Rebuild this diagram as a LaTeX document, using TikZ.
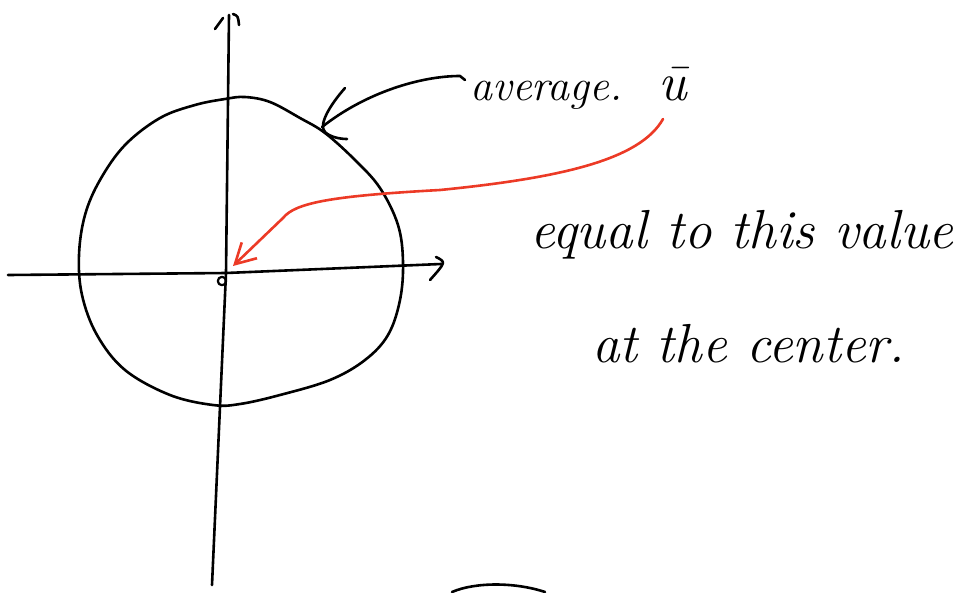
\documentclass[tikz,border=0pt]{standalone}
\usepackage{xcolor}
\usetikzlibrary{positioning, arrows.meta}

\begin{document}
\begin{tikzpicture}[
        x=1pt, y=-1pt,
        % pen strokes of the sketch
        pen/.style={line width=2.6pt, line cap=round, line join=round},
        redpen/.style={pen, draw=sketchred},
        note/.style={font=\fontsize{55}{62}\selectfont\itshape, inner sep=0pt},
        tag/.style={font=\fontsize{44}{52}\selectfont\itshape, inner sep=0pt}
    ]
    \definecolor{sketchred}{RGB}{236,58,38}
    \useasboundingbox (0,0) rectangle (973,592);

    % --- Axes ---
    \coordinate (O) at (226,273);
    \draw[pen] (8,275) -- (O) -- (441,264);
    \draw[pen] (229,15) -- (O) -- (212,585);
    \draw[pen] (215,29) -- (223,18);
    \draw[pen] (233,14) .. controls (238,16) .. (239,25);
    \draw[pen] (436,257) .. controls (446,262) .. (430,280);
    \draw[pen, line width=2.2pt] (222,281) circle (4.2);

    % --- Closed curve ---
    \draw[pen] plot[smooth cycle, tension=0.6] coordinates {
        (245,97) (270,102) (300,118) (325,133) (355,160) (380,188)
        (398,225) (403,262) (400,300) (388,335) (365,360) (330,380)
        (280,395) (240,404) (213,405) (170,395) (125,370) (97,335)
        (82,295) (79,255) (85,215) (100,180) (125,145) (160,118)
        (195,105) (225,99)};

    % --- Labels ---
    \node[tag, anchor=base west] (avg) at (470,100) {average.};
    \node[tag, base right=36pt of avg, font=\fontsize{54}{60}\selectfont\itshape] (ubar) {\=u};
    \node[note, anchor=base west] (eq) at (530,248) {equal to this value};
    \node[note, anchor=base west] (ctr) at (592,362) {at the center.};

    % --- Pointer to the curve ---
    \coordinate (hook) at (465,80);
    \coordinate (rim) at (322,127);
    \draw[pen] (hook) -- (460,76)
        .. controls (420,76) and (365,93) .. (rim);
    \draw[pen] (345,88) .. controls (330,105) and (318,125) .. (325,132)
        .. controls (330,137) and (340,139) .. (347,139);

    % --- Red arrow to the center ---
    \coordinate (ustart) at (663,119);
    \coordinate (tip) at (233,266);
    \draw[redpen, -{Straight Barb[length=20pt, width=22pt, line width=2.6pt]}]
        (ustart) .. controls (640,160) and (560,178) .. (440,190)
        .. controls (330,196) and (295,203) .. (283,218) -- (tip);

    % --- Edge of a second sketch ---
    \draw[pen] (452,592) .. controls (475,582) and (515,582) .. (545,592);
\end{tikzpicture}
\end{document}
